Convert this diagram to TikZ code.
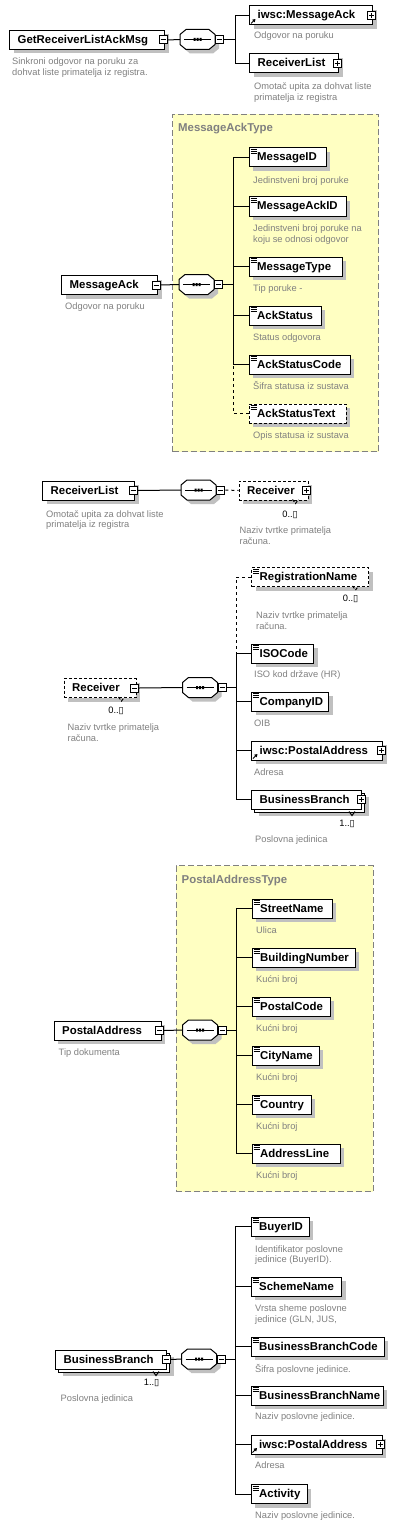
\documentclass[tikz,border=0pt]{standalone}
\usepackage{fontspec}
\setmainfont{Liberation Sans}
\newfontfamily\symfont{DejaVu Sans}
\usetikzlibrary{shadows,arrows.meta}
\definecolor{dgray}{RGB}{128,128,128}
\definecolor{shgray}{RGB}{192,192,192}
\definecolor{ybg}{RGB}{255,255,194}
\tikzset{
  elplain/.style={draw=black, fill=white, line width=1pt, inner sep=0pt, minimum height=19pt, anchor=north west},
  elbox/.style={elplain, drop shadow={shadow xshift=4pt, shadow yshift=-4pt, opacity=1, fill=shgray}},
  optbox/.style={dash pattern=on 3pt off 2pt},
  elname/.style={font=\fontsize{11.4}{13}\selectfont\bfseries, inner sep=0pt, anchor=base west},
  dsc/.style={font=\fontsize{9.3}{11}\selectfont, text=dgray, inner sep=0pt, anchor=base west},
  ttl/.style={font=\fontsize{11.4}{13}\selectfont\bfseries, text=dgray, inner sep=0pt, anchor=base west},
  mult/.style={font=\fontsize{9.3}{11}\selectfont, inner sep=0pt, anchor=base east},
  btnbase/.style={draw=black, fill=white, line width=1pt, inner sep=0pt, minimum size=8pt},
  btnminus/.style={btnbase, path picture={\draw[line width=1pt] ([xshift=1.5pt]path picture bounding box.west) -- ([xshift=-1.5pt]path picture bounding box.east);}},
  btnplus/.style={btnbase, path picture={\draw[line width=1pt] ([xshift=1.5pt]path picture bounding box.west) -- ([xshift=-1.5pt]path picture bounding box.east); \draw[line width=1pt] ([yshift=-1.5pt]path picture bounding box.north) -- ([yshift=1.5pt]path picture bounding box.south);}},
  conn/.style={draw=black, line width=1pt},
  optconn/.style={conn, dash pattern=on 3pt off 3pt},
  typebox/.style={draw=dgray, fill=ybg, line width=1pt, dash pattern=on 6pt off 3pt, inner sep=0pt, anchor=north west},
}
% element box: [opts]{name}{x}{top}{width}{label}
\newcommand\xel[6][]{%
  \node[elbox,#1,minimum width=#5pt] (#2) at (#3,#4) {};
  \node[elname] (#2t) at ([shift={(8.5,13.5)}]#2.north west) {#6};}
% stacked (multiple) element box
\newcommand\stk[5]{%
  \node[elbox, minimum width=#4pt] (#1k) at (#2+3,#3+3) {};
  \node[elplain, minimum width=#4pt] (#1) at (#2,#3) {};
  \node[elname] (#1t) at ([shift={(8.5,13.5)}]#1.north west) {#5};}
\newcommand\xbtn[2]{\node[#1] (#2b) at ([xshift=-2pt]#2.east) {};}
\newcommand\smpic[1]{\draw[line width=1pt] ([shift={(2,2)}]#1.north west) -- ++(6,0) ([shift={(2,4)}]#1.north west) -- ++(6,0) ([shift={(2,6)}]#1.north west) -- ++(6,0);}
\newcommand\refic[1]{\draw[line width=1pt, -{Triangle[length=3pt,width=3.5pt]}] ([shift={(2,-2)}]#1.south west) -- ([shift={(6.5,-6.5)}]#1.south west);}
\newcommand\vn[3][]{\draw[line width=1pt,#1] (#2-3,#3) -- (#2,#3+4) -- (#2+3,#3);}
\newcommand\seqc[3]{%
  \node[inner sep=0pt, minimum width=35pt, minimum height=20pt, anchor=west] (#1) at (#2,#3) {};
  \begin{scope}[shift={(#2,#3)}]
    \fill[shgray] (4,-1) -- (10,-6) -- (33,-6) -- (39,-1) -- (39,9) -- (33,14) -- (10,14) -- (4,9) -- cycle;
    \draw[line width=1pt, fill=white] (0,-5) -- (6,-10) -- (29,-10) -- (35,-5) -- (35,5) -- (29,10) -- (6,10) -- (0,5) -- cycle;
    \draw[line width=1pt] (4,0) -- (31,0);
    \fill (13.5,-1.5) rectangle (15.5,1.5) (16.5,-1.5) rectangle (18.5,1.5) (19.5,-1.5) rectangle (21.5,1.5);
  \end{scope}
  \node[btnminus] (#1b) at ([xshift=4.5pt]#1.east) {};}
\newcommand\infg{{\symfont ▯}}

\begin{document}
\begin{tikzpicture}[x=1pt,y=-1pt]
\useasboundingbox (0,0) rectangle (417,1533);
\fill[white] (0,0) rectangle (417,1533);

%% ---------- Section 1: GetReceiverListAckMsg ----------
\coordinate (j1) at (235,39.5);
\xel{grl}{9}{30}{155}{GetReceiverListAckMsg}
\xbtn{btnminus}{grl}
\node[dsc] (grld1) at (12,64.5) {Sinkroni odgovor na poruku za};
\node[dsc] (grld2) at (12,75.5) {dohvat liste primatelja iz registra.};
\seqc{c1}{180}{39.5}
\xel{mack}{249}{5.5}{123}{iwsc:MessageAck}
\refic{mack}
\xbtn{btnplus}{mack}
\node[dsc] (mackd) at (254,38.5) {Odgovor na poruku};
\xel{rlist}{249}{53.5}{89}{ReceiverList}
\xbtn{btnplus}{rlist}
\node[dsc] (rlistd1) at (254,89.5) {Omotač upita za dohvat liste};
\node[dsc] (rlistd2) at (254,100.5) {primatelja iz registra};
\draw[conn] (grlb.east) -- (c1.west);
\draw[conn] (c1b.east) -- (j1);
\draw[conn] (mack.west) -| (j1);
\draw[conn] (rlist.west) -| (j1);

%% ---------- Section 2: MessageAck ----------
\node[typebox, minimum width=206pt, minimum height=337pt] (t1) at (172,114) {};
\node[ttl] (t1t) at (178,132) {MessageAckType};
\coordinate (j2) at (233.5,284.5);
\xel{ma}{61}{275}{96}{MessageAck}
\xbtn{btnminus}{ma}
\node[dsc] (mad) at (65,309.5) {Odgovor na poruku};
\seqc{c2}{179}{284.5}
\xel{mid}{248.5}{147.5}{77}{MessageID}\smpic{mid}
\node[dsc] (midd) at (253,183) {Jedinstveni broj poruke};
\xel{mackid}{248.5}{196.5}{97}{MessageAckID}\smpic{mackid}
\node[dsc] (mackidd1) at (253,231) {Jedinstveni broj poruke na};
\node[dsc] (mackidd2) at (253,242) {koju se odnosi odgovor};
\xel{mtype}{248.5}{256.5}{93}{MessageType}\smpic{mtype}
\node[dsc] (mtyped) at (253,291) {Tip poruke -};
\xel{astat}{248.5}{305.5}{72}{AckStatus}\smpic{astat}
\node[dsc] (astatd) at (253,340) {Status odgovora};
\xel{ascode}{248.5}{354.5}{101}{AckStatusCode}\smpic{ascode}
\node[dsc] (ascoded) at (253,389.5) {Šifra statusa iz sustava};
\xel[optbox]{astext}{248.5}{403.5}{97}{AckStatusText}\smpic{astext}
\node[dsc] (astextd) at (253,438.5) {Opis statusa iz sustava};
\draw[conn] (mab.east) -- (c2.west);
\draw[conn] (c2b.east) -- (j2);
\draw[optconn] (astext.west) -| (j2);
\foreach \n in {mid,mackid,mtype,astat,ascode} \draw[conn] (\n.west) -| (j2);

%% ---------- Section 3: ReceiverList ----------
\xel{rl2}{42}{480.5}{92}{ReceiverList}
\xbtn{btnminus}{rl2}
\node[dsc] (rl2d1) at (46,517) {Omotač upita za dohvat liste};
\node[dsc] (rl2d2) at (46,527.5) {primatelja iz registra};
\seqc{c3}{181}{490}
\xel[optbox]{rcv}{238.5}{480.5}{69}{Receiver}
\vn[optbox]{295.5}{499.5}
\xbtn{btnplus}{rcv}
\node[mult] (rcvm) at (298,517) {0..\infg};
\node[dsc] (rcvd1) at (239.5,533.5) {Naziv tvrtke primatelja};
\node[dsc] (rcvd2) at (239.5,544.5) {računa.};
\draw[conn] (rl2b.east) -- (c3.west);
\draw[optconn] (c3b.east) -- (rcv.west);

%% ---------- Section 4: Receiver ----------
\coordinate (j4) at (236,687.5);
\xel[optbox]{rcv2}{63.5}{678}{72}{Receiver}
\vn[optbox]{121.5}{697}
\xbtn{btnminus}{rcv2}
\node[mult] (rcv2m) at (124,713.5) {0..\infg};
\node[dsc] (rcv2d1) at (67.5,730) {Naziv tvrtke primatelja};
\node[dsc] (rcv2d2) at (67.5,741) {računa.};
\seqc{c4}{182.5}{687.5}
\xel[optbox]{regn}{251}{567}{117}{RegistrationName}\smpic{regn}
\vn[optbox]{355.5}{586}
\node[mult] (regnm) at (358.5,601) {0..\infg};
\node[dsc] (regnd1) at (256,618.5) {Naziv tvrtke primatelja};
\node[dsc] (regnd2) at (256,629) {računa.};
\xel{iso}{251}{643.5}{62}{ISOCode}\smpic{iso}
\node[dsc] (isod) at (254,677) {ISO kod države (HR)};
\xel{cid}{251}{691.5}{77}{CompanyID}\smpic{cid}
\node[dsc] (cidd) at (254,726) {OIB};
\xel{pa1}{251}{740.5}{131}{iwsc:PostalAddress}\refic{pa1}
\xbtn{btnplus}{pa1}
\node[dsc] (pa1d) at (254,775) {Adresa};
\stk{bb1}{251}{789.5}{110}{BusinessBranch}
\node[btnplus] (bb1b) at ([xshift=-1pt]bb1.east) {};
\vn{352}{811.5}
\node[mult] (bb1m) at (355,826) {1..\infg};
\node[dsc] (bb1d) at (255,842.5) {Poslovna jedinica};
\draw[conn] (rcv2b.east) -- (c4.west);
\draw[conn] (c4b.east) -- (j4);
\draw[optconn] (regn.west) -| (j4);
\foreach \n in {iso,cid,pa1,bb1} \draw[conn] (\n.west) -| (j4);

%% ---------- Section 5: PostalAddress ----------
\node[typebox, minimum width=197pt, minimum height=326pt] (t2) at (175.5,865) {};
\node[ttl] (t2t) at (181.5,883) {PostalAddressType};
\coordinate (j5) at (236.5,1030);
\xel{padr}{53.5}{1020.5}{107}{PostalAddress}
\xbtn{btnminus}{padr}
\node[dsc] (padrd) at (58.5,1055) {Tip dokumenta};
\seqc{c5}{182.5}{1030}
\xel{street}{251.5}{898.5}{80}{StreetName}\smpic{street}
\node[dsc] (streetd) at (256,933) {Ulica};
\xel{bnum}{251.5}{947.5}{103}{BuildingNumber}\smpic{bnum}
\node[dsc] (bnumd) at (256,982) {Kućni broj};
\xel{pcode}{251.5}{996.5}{78}{PostalCode}\smpic{pcode}
\node[dsc] (pcoded) at (256,1031) {Kućni broj};
\xel{city}{251.5}{1045.5}{67}{CityName}\smpic{city}
\node[dsc] (cityd) at (256,1080) {Kućni broj};
\xel{ctry}{251.5}{1094.5}{59}{Country}\smpic{ctry}
\node[dsc] (ctryd) at (256,1129) {Kućni broj};
\xel{aline}{251.5}{1143.5}{88}{AddressLine}\smpic{aline}
\node[dsc] (alined) at (256,1178) {Kućni broj};
\draw[conn] (padrb.east) -- (c5.west);
\draw[conn] (c5b.east) -- (j5);
\foreach \n in {street,bnum,pcode,city,ctry,aline} \draw[conn] (\n.west) -| (j5);

%% ---------- Section 6: BusinessBranch ----------
\coordinate (j6) at (235,1359);
\stk{bb2}{55}{1349.5}{111}{BusinessBranch}
\node[btnminus] (bb2b) at ([xshift=-1pt]bb2.east) {};
\vn{156}{1371.5}
\node[mult] (bb2m) at (159.5,1385) {1..\infg};
\node[dsc] (bb2d) at (60.5,1401) {Poslovna jedinica};
\seqc{c6}{181.5}{1359}
\xel{buyer}{250.5}{1216.5}{58}{BuyerID}\smpic{buyer}
\node[dsc] (buyerd1) at (255,1252) {Identifikator poslovne};
\node[dsc] (buyerd2) at (255,1262.5) {jedinice (BuyerID).};
\xel{scheme}{250.5}{1276.5}{90.5}{SchemeName}\smpic{scheme}
\node[dsc] (schemed1) at (255,1311) {Vrsta sheme poslovne};
\node[dsc] (schemed2) at (255,1322) {jedinice (GLN, JUS,};
\xel{bbcode}{250.5}{1336.5}{133}{BusinessBranchCode}\smpic{bbcode}
\node[dsc] (bbcoded) at (255,1372) {Šifra poslovne jedinice.};
\xel{bbname}{250.5}{1385.5}{132}{BusinessBranchName}\smpic{bbname}
\node[dsc] (bbnamed) at (255,1419) {Naziv poslovne jedinice.};
\xel{pa2}{250.5}{1434.5}{131}{iwsc:PostalAddress}\refic{pa2}
\xbtn{btnplus}{pa2}
\node[dsc] (pa2d) at (255,1468.5) {Adresa};
\xel{act}{250.5}{1484}{56}{Activity}\smpic{act}
\node[dsc] (actd) at (255,1518.5) {Naziv poslovne jedinice.};
\draw[conn] (bb2b.east) -- (c6.west);
\draw[conn] (c6b.east) -- (j6);
\foreach \n in {buyer,scheme,bbcode,bbname,pa2,act} \draw[conn] (\n.west) -| (j6);
\end{tikzpicture}
\end{document}
